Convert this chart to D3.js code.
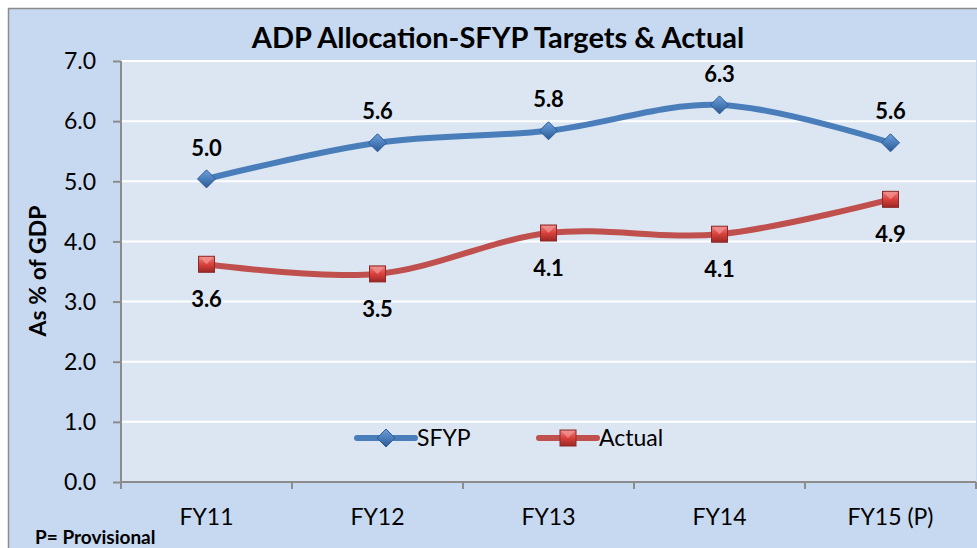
<!DOCTYPE html>
<html>
<head>
<meta charset="utf-8">
<script src="https://cdn.jsdelivr.net/npm/d3@7"></script>
<style>
  body { margin: 0; background: #fff; }
  svg text { font-family: Lato, "Open Sans", sans-serif; fill: #000; }
</style>
</head>
<body>
<div id="viz"></div>
<script>
var width = 977;
var height = 548;

// data
var categories = ["FY11", "FY12", "FY13", "FY14", "FY15 (P)"];
var sfyp = [5.04, 5.64, 5.84, 6.27, 5.64];
var actual = [3.62, 3.46, 4.14, 4.12, 4.70];
var sfypLabels = ["5.0", "5.6", "5.8", "6.3", "5.6"];
var actualLabels = ["3.6", "3.5", "4.1", "4.1", "4.9"];
var yTicks = [0, 1, 2, 3, 4, 5, 6, 7];

var plot = {left: 121, right: 976, top: 61, bottom: 482};

var svg = d3.select("#viz").append("svg")
    .attr("width", width)
    .attr("height", height);

var defs = svg.append("defs");
var gb = defs.append("linearGradient").attr("id", "gblue")
    .attr("x1", 0).attr("y1", 0).attr("x2", 0).attr("y2", 1);
gb.append("stop").attr("offset", "0%").attr("stop-color", "#6f9fdc");
gb.append("stop").attr("offset", "50%").attr("stop-color", "#4a7ebb");
gb.append("stop").attr("offset", "100%").attr("stop-color", "#2c5a94");
var gr = defs.append("linearGradient").attr("id", "gred")
    .attr("x1", 0).attr("y1", 0).attr("x2", 0).attr("y2", 1);
gr.append("stop").attr("offset", "0%").attr("stop-color", "#f08080");
gr.append("stop").attr("offset", "50%").attr("stop-color", "#d9413d");
gr.append("stop").attr("offset", "100%").attr("stop-color", "#9c2724");

// outer chart area
svg.append("rect")
    .attr("x", 8.5).attr("y", 8.5)
    .attr("width", width).attr("height", height)
    .style("fill", "#c6d9f0")
    .style("stroke", "#8c8c8c")
    .style("stroke-width", 1.5);

var x = d3.scaleBand()
    .domain(categories)
    .range([plot.left, plot.right]);

var y = d3.scaleLinear()
    .domain([0, 7])
    .range([plot.bottom, plot.top]);

// plot area
svg.append("rect")
    .attr("x", plot.left).attr("y", plot.top)
    .attr("width", plot.right - plot.left)
    .attr("height", plot.bottom - plot.top)
    .style("fill", "#dce6f2");

svg.selectAll(".grid")
    .data(yTicks.slice(1))
  .enter().append("line")
    .attr("class", "grid")
    .attr("x1", plot.left).attr("x2", plot.right)
    .attr("y1", function(d) { return y(d); })
    .attr("y2", function(d) { return y(d); })
    .style("stroke", "#fff")
    .style("stroke-width", 2);

// y axis
var yAxis = svg.append("g")
    .attr("transform", "translate(" + plot.left + ",0)")
    .call(d3.axisLeft(y).tickValues(yTicks).tickSize(8).tickPadding(17)
      .tickFormat(d3.format(".1f")));
yAxis.select(".domain").style("stroke", "#8c8c8c").style("stroke-width", 2)
    .attr("d", "M0," + plot.top + "V" + plot.bottom);
yAxis.selectAll(".tick line").style("stroke", "#8c8c8c").style("stroke-width", 2);
yAxis.selectAll(".tick text")
    .style("font-size", "23px")
    .style("font-family", "Lato, sans-serif")
    .attr("dy", "0.34em")
    .style("fill", "#000");

// x axis
var xAxis = svg.append("g")
    .attr("transform", "translate(0," + plot.bottom + ")")
    .call(d3.axisBottom(x).tickSize(0).tickPadding(27));
xAxis.select(".domain").style("stroke", "#8c8c8c").style("stroke-width", 2)
    .attr("d", "M" + plot.left + ",0H" + plot.right);
xAxis.selectAll(".tick text")
    .style("font-size", "23px")
    .style("font-family", "Lato, sans-serif")
    .style("fill", "#000");
xAxis.selectAll(".bound")
    .data(categories.map(function(c) { return x(c); }).concat([plot.right]))
  .enter().append("line")
    .attr("class", "bound")
    .attr("x1", function(d) { return d; }).attr("x2", function(d) { return d; })
    .attr("y1", 0).attr("y2", 7)
    .style("stroke", "#8c8c8c").style("stroke-width", 2);

function cx(i) { return x(categories[i]) + x.bandwidth() / 2; }

var line = d3.line()
    .x(function(d, i) { return cx(i); })
    .y(function(d) { return y(d); })
    .curve(d3.curveCatmullRom.alpha(0.5));

svg.append("path").datum(sfyp)
    .attr("d", line)
    .style("fill", "none")
    .style("stroke", "#4a7ebb")
    .style("stroke-width", 6)
    .style("stroke-linecap", "round");

svg.append("path").datum(actual)
    .attr("d", line)
    .style("fill", "none")
    .style("stroke", "#c0504d")
    .style("stroke-width", 6)
    .style("stroke-linecap", "round");

function diamond(g, px, py) {
  g.append("path")
      .attr("d", "M" + px + "," + (py - 9) + "L" + (px + 9) + "," + py +
        "L" + px + "," + (py + 9) + "L" + (px - 9) + "," + py + "Z")
      .style("fill", "url(#gblue)")
      .style("stroke", "#2c5a94")
      .style("stroke-width", 1);
}

function square(g, px, py) {
  g.append("rect")
      .attr("x", px - 8).attr("y", py - 8)
      .attr("width", 16).attr("height", 16)
      .style("fill", "url(#gred)")
      .style("stroke", "#8a2a28")
      .style("stroke-width", 1);
  g.append("path")
      .attr("d", "M" + (px - 7) + "," + (py - 7) + "L" + px + "," + py +
        "L" + (px + 7) + "," + (py - 7) + "Z")
      .style("fill", "#f4a09d")
      .style("opacity", 0.6);
}

var markers = svg.append("g");
sfyp.forEach(function(d, i) { diamond(markers, cx(i), y(d)); });
actual.forEach(function(d, i) { square(markers, cx(i), y(d)); });

svg.selectAll(".lblS")
    .data(sfypLabels)
  .enter().append("text")
    .attr("class", "lblS")
    .attr("x", function(d, i) { return cx(i); })
    .attr("y", function(d, i) { return y(sfyp[i]) - 31; })
    .attr("dy", "0.35em")
    .attr("text-anchor", "middle")
    .style("font-size", "22px")
    .style("font-weight", "bold")
    .text(function(d) { return d; });

svg.selectAll(".lblA")
    .data(actualLabels)
  .enter().append("text")
    .attr("class", "lblA")
    .attr("x", function(d, i) { return cx(i); })
    .attr("y", function(d, i) { return y(actual[i]) + 35; })
    .attr("dy", "0.35em")
    .attr("text-anchor", "middle")
    .style("font-size", "22px")
    .style("font-weight", "bold")
    .text(function(d) { return d; });

// legend
var legend = svg.append("g");
var legendItems = [
  {name: "SFYP", x: 357, color: "#4a7ebb", marker: diamond},
  {name: "Actual", x: 539, color: "#c0504d", marker: square}
];
legendItems.forEach(function(it) {
  legend.append("line")
      .attr("x1", it.x).attr("x2", it.x + 58)
      .attr("y1", 438).attr("y2", 438)
      .style("stroke", it.color)
      .style("stroke-width", 6)
      .style("stroke-linecap", "round");
  it.marker(legend, it.x + 29, 438);
  legend.append("text")
      .attr("x", it.x + 60).attr("y", 438)
      .attr("dy", "0.35em")
      .style("font-size", "23px")
      .text(it.name);
});

// title
svg.append("text")
    .attr("x", 498).attr("y", 38)
    .attr("dy", "0.35em")
    .attr("text-anchor", "middle")
    .style("font-size", "29px")
    .style("font-weight", "bold")
    .text("ADP Allocation-SFYP Targets & Actual");

svg.append("text")
    .attr("transform", "translate(38,271) rotate(-90)")
    .attr("dy", "0.35em")
    .attr("text-anchor", "middle")
    .style("font-size", "23px")
    .style("font-weight", "bold")
    .text("As % of GDP");

svg.append("text")
    .attr("x", 35).attr("y", 537)
    .attr("dy", "0.35em")
    .style("font-size", "19px")
    .style("font-weight", "bold")
    .text("P= Provisional");
</script>
</body>
</html>
